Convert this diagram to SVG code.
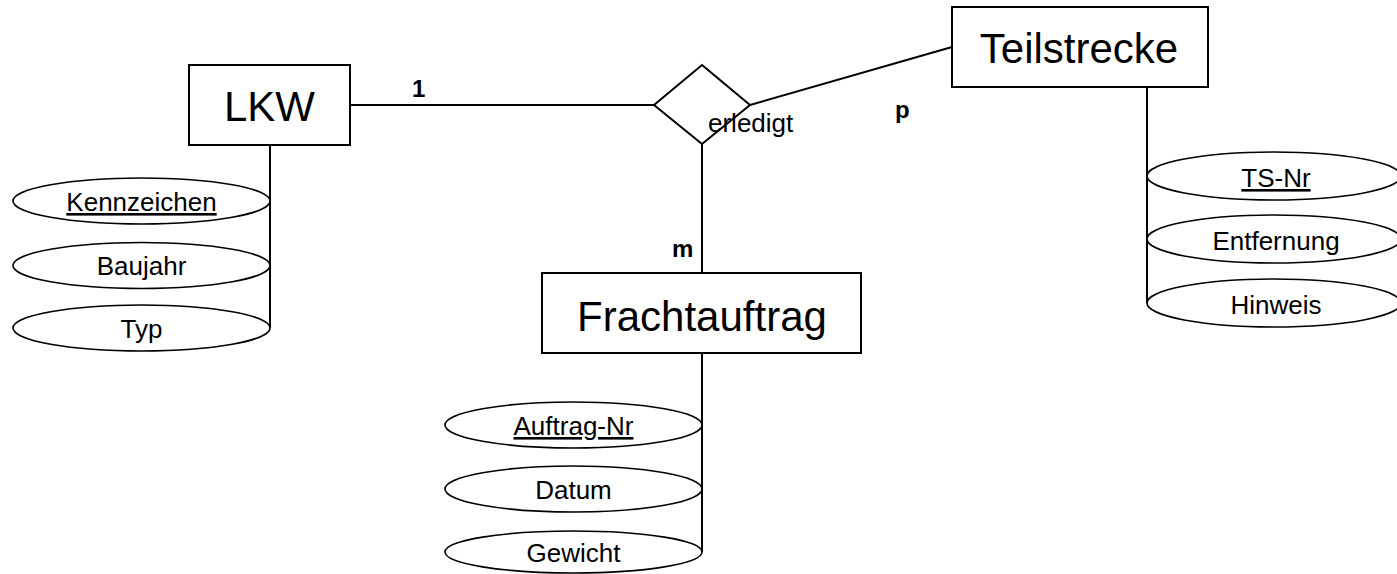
<svg xmlns="http://www.w3.org/2000/svg" width="1397" height="574" viewBox="0 0 1397 574">
<style>
.box{fill:#fff;stroke:#000;stroke-width:2}
.attr{fill:#fff;stroke:#000;stroke-width:1.6}
.ln{stroke:#000;stroke-width:2;fill:none}
.big{font-family:"Liberation Sans",Arial,sans-serif;font-size:42px;text-anchor:middle;fill:#000}
.at{font-family:"Liberation Sans",Arial,sans-serif;font-size:26px;text-anchor:middle;fill:#000}
.card{font-family:"Liberation Sans",Arial,sans-serif;font-size:24px;font-weight:bold;fill:#000}
.key{text-decoration:underline}
</style>
<rect width="1397" height="574" fill="#fff"/>
<g id="connectors">
<line class="ln" x1="350" y1="105" x2="654" y2="105"/>
<line class="ln" x1="750" y1="105" x2="952" y2="47"/>
<line class="ln" x1="702" y1="144" x2="702" y2="273"/>
<line class="ln" x1="270" y1="145" x2="270" y2="328"/>
<line class="ln" x1="702" y1="353" x2="702" y2="552"/>
<line class="ln" x1="1147" y1="87" x2="1147" y2="303"/>
</g>
<g id="LKW">
<rect class="box" x="189" y="65" width="161" height="80"/>
<text class="big" x="269.5" y="121">LKW</text>
</g>
<g id="erledigt">
<polygon class="box" points="702,65 750,105 702,144 654,105"/>
<text class="at" x="708" y="132" style="text-anchor:start">erledigt</text>
</g>
<g id="Teilstrecke">
<rect class="box" x="952" y="7" width="256" height="80"/>
<text class="big" x="1079" y="63">Teilstrecke</text>
</g>
<g id="Frachtauftrag">
<rect class="box" x="542" y="273" width="319" height="80"/>
<text class="big" x="702" y="331">Frachtauftrag</text>
</g>
<g id="labels">
<text class="card" x="412" y="97">1</text>
<text class="card" x="895" y="118">p</text>
<text class="card" x="672" y="257">m</text>
</g>
<g id="attr-Kennzeichen">
<ellipse class="attr" cx="141.5" cy="201" rx="128.5" ry="23"/>
<text class="at key" x="141.5" y="211">Kennzeichen</text>
</g>
<g id="attr-Baujahr">
<ellipse class="attr" cx="141.5" cy="265.5" rx="128.5" ry="23"/>
<text class="at" x="141.5" y="275">Baujahr</text>
</g>
<g id="attr-Typ">
<ellipse class="attr" cx="141.5" cy="328" rx="128.5" ry="23"/>
<text class="at" x="141.5" y="338">Typ</text>
</g>
<g id="attr-Auftrag-Nr">
<ellipse class="attr" cx="573.5" cy="425" rx="128.5" ry="23"/>
<text class="at key" x="573.5" y="435">Auftrag-Nr</text>
</g>
<g id="attr-Datum">
<ellipse class="attr" cx="573.5" cy="489" rx="128.5" ry="23"/>
<text class="at" x="573.5" y="499">Datum</text>
</g>
<g id="attr-Gewicht">
<ellipse class="attr" cx="573.5" cy="552" rx="128.5" ry="21"/>
<text class="at" x="573.5" y="562">Gewicht</text>
</g>
<g id="attr-TS-Nr">
<ellipse class="attr" cx="1274" cy="176" rx="127" ry="24"/>
<text class="at key" x="1276" y="187">TS-Nr</text>
</g>
<g id="attr-Entfernung">
<ellipse class="attr" cx="1274" cy="239" rx="127" ry="24"/>
<text class="at" x="1276" y="250">Entfernung</text>
</g>
<g id="attr-Hinweis">
<ellipse class="attr" cx="1274" cy="303" rx="127" ry="24"/>
<text class="at" x="1276" y="314">Hinweis</text>
</g>
</svg>
